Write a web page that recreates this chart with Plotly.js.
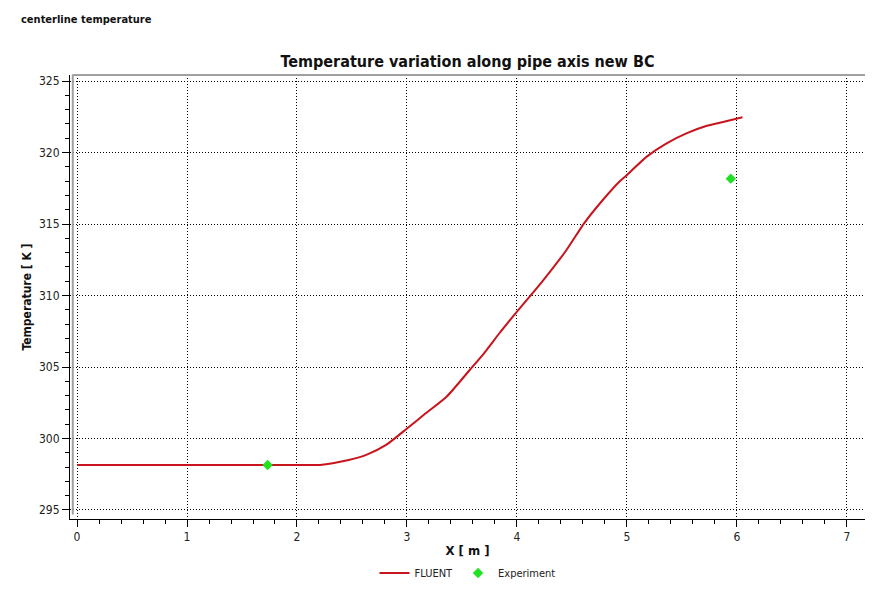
<!DOCTYPE html>
<html>
<head>
<meta charset="utf-8">
<script src="https://cdn.plot.ly/plotly-3.0.1.min.js"></script>
<style>html,body{margin:0;padding:0;background:#fff;}#chart{width:878px;height:600px;}</style>
</head>
<body>
<div id="chart"></div>
<script>
// FLUENT centerline temperature (X [m], T [K])
const fluentX = [0.00, 0.50, 1.00, 1.50, 2.00, 2.21, 2.47, 2.63, 2.81, 3.00, 3.17, 3.36, 3.57, 3.70, 3.84, 4.00, 4.14, 4.24, 4.45, 4.61, 4.78, 4.93, 5.00, 5.18, 5.36, 5.54, 5.72, 5.90, 6.05];
const fluentT = [298.15, 298.15, 298.15, 298.15, 298.15, 298.15, 298.5, 298.85, 299.55, 300.7, 301.76, 302.92, 304.79, 305.96, 307.36, 308.87, 310.15, 311.08, 313.18, 315.05, 316.68, 317.96, 318.43, 319.71, 320.64, 321.34, 321.85, 322.18, 322.46];
// Experimental points
const expX = [1.733, 5.944];
const expT = [298.15, 318.17];
// Axis ticks
const xTicks = [0, 1, 2, 3, 4, 5, 6, 7];
const yTicks = [295, 300, 305, 310, 315, 320, 325];

const FONT = '"DejaVu Sans Condensed", "DejaVu Sans", Tahoma, sans-serif';

const traces = [
  {x: fluentX, y: fluentT, type: 'scatter', mode: 'lines', name: 'FLUENT',
   line: {color: '#c8141c', width: 2, shape: 'spline', smoothing: 0.6}},
  {x: expX, y: expT, type: 'scatter', mode: 'markers', name: 'Experiment',
   marker: {symbol: 'diamond', size: 8, color: '#22e022'}}
];

const layout = {
  width: 878, height: 600,
  paper_bgcolor: '#ffffff', plot_bgcolor: '#ffffff',
  margin: {l: 70, r: 13, t: 75, b: 81, autoexpand: false},
  font: {family: FONT, size: 11, color: '#222'},
  title: {text: '<b>Temperature variation along pipe axis new BC</b>', font: {family: FONT, size: 16, color: '#111'},
          x: 0.5, xref: 'paper', y: 1, yref: 'paper', yanchor: 'bottom', pad: {b: 8}},
  showlegend: true,
  legend: {orientation: 'h', x: 0.5, xanchor: 'center', xref: 'paper', y: 0.045, yref: 'container', yanchor: 'middle',
           font: {family: FONT, size: 11, color: '#222'}, bgcolor: 'rgba(0,0,0,0)'},
  xaxis: {
    range: [-0.0637, 7.164], tickvals: xTicks, ticktext: xTicks.map(String),
    showline: true, linecolor: '#000', linewidth: 1,
    ticks: 'outside', ticklen: 7, tickcolor: '#000', tickwidth: 1,
    minor: {dtick: 0.2, ticks: 'outside', ticklen: 4, tickcolor: '#000', showgrid: false},
    showgrid: true, gridcolor: '#000', griddash: '1px,2px', gridwidth: 1,
    zeroline: false,
    tickfont: {family: FONT, size: 12, color: '#222'},
    title: {text: '<b>X [ m ]</b>', font: {family: FONT, size: 13, color: '#111'}, standoff: 4}
  },
  yaxis: {
    range: [294.37, 325.42], tickvals: yTicks, ticktext: yTicks.map(String),
    showline: true, linecolor: '#000', linewidth: 1,
    ticks: 'outside', ticklen: 7, tickcolor: '#000', tickwidth: 1,
    minor: {dtick: 1, ticks: 'outside', ticklen: 4, tickcolor: '#000', showgrid: false},
    showgrid: true, gridcolor: '#000', griddash: '1px,2px', gridwidth: 1,
    zeroline: false,
    tickfont: {family: FONT, size: 12, color: '#222'},
    title: {text: '<b>Temperature [ K ]</b>', font: {family: FONT, size: 12, color: '#111'}, standoff: 4}
  },
  shapes: [
    {type: 'line', xref: 'paper', yref: 'paper', x0: 0.003, x1: 1, y0: 1, y1: 1,
     line: {color: '#a0a0a0', width: 2}},
    {type: 'line', xref: 'paper', yref: 'paper', x0: 0.0035, x1: 0.0035, y0: 0.01, y1: 1,
     line: {color: '#a0a0a0', width: 2}}
  ],
  annotations: [
    {text: '<b>centerline temperature</b>', xref: 'paper', yref: 'paper', x: -0.064, y: 1.125,
     xanchor: 'left', yanchor: 'middle', showarrow: false, font: {family: FONT, size: 11, color: '#111'}}
  ]
};

Plotly.newPlot('chart', traces, layout, {displayModeBar: false, staticPlot: true});
</script>
</body>
</html>
